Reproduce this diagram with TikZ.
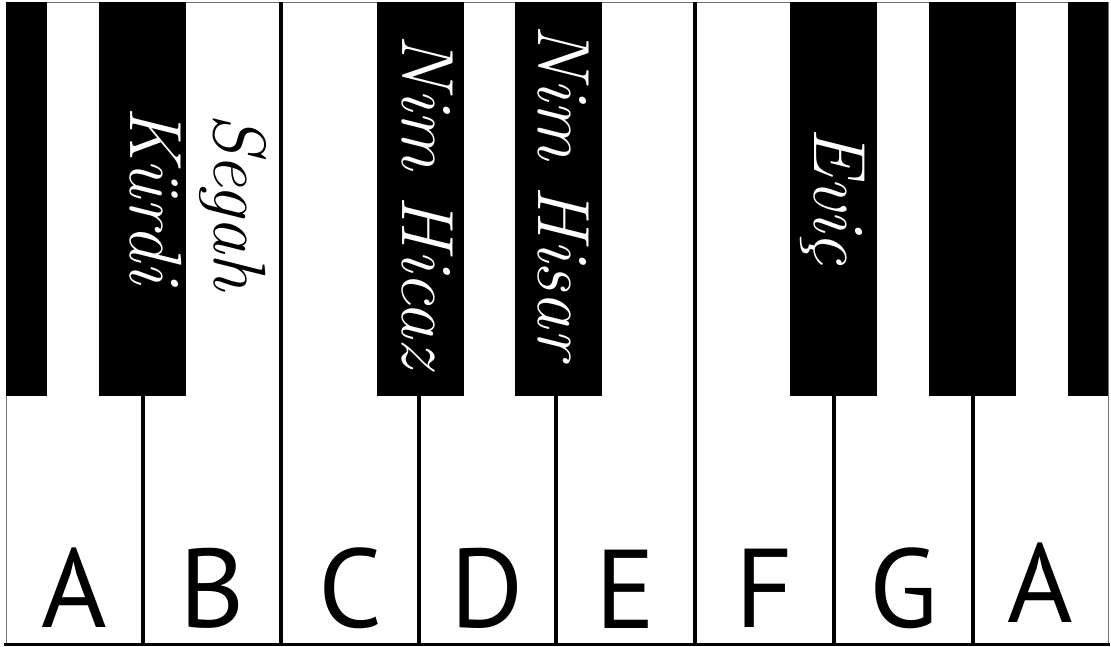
\documentclass[tikz,border=0pt]{standalone}
\usepackage{fontspec}
\newfontfamily\letterfont{PT Sans}
\begin{document}
\begin{tikzpicture}[x=1pt,y=-1pt,
  frame/.style={draw=black!55,line width=1pt},
  blackkey/.style={fill=black},
  sep/.style={line width=3.8pt,black},
  note/.style={font=\letterfont\fontsize{112}{112}\selectfont,anchor=base,inner sep=0pt,text depth=0pt},
  maqam/.style={font=\itshape\fontsize{74}{74}\selectfont,rotate=-90,anchor=base,inner sep=0pt},
]
\useasboundingbox (0,0) rectangle (1111,646);
\fill[white] (0,0) rectangle (1111,646);
\draw[frame] (6,2) rectangle (1108,643);
% white key separators
\foreach \x in {143,281,419,556,695,834,973}
  \draw[sep] (\x,2) -- (\x,643);
\draw[line width=3.5pt] (4,644.5) -- (1110,644.5);
% black keys
\fill[blackkey] (6,2) rectangle (47,396);
\fill[blackkey] (99,2) rectangle (186,396);
\fill[blackkey] (377,2) rectangle (464,396);
\fill[blackkey] (515,2) rectangle (602,396);
\fill[blackkey] (790,2) rectangle (877,396);
\fill[blackkey] (929,2) rectangle (1016,396);
\fill[blackkey] (1068,2) rectangle (1108,396);
% maqam labels
\node[maqam,white] (kurdi) at (130,195) {Kürdi};
\node[maqam,black] (segah) at (214,202) {Segah};
\node[maqam,white] (nimhicaz) at (402,201) {Nim Hicaz};
\node[maqam,white] (nimhisar) at (538,192) {Nim Hisar};
\node[maqam,white] (evic) at (814,196) {Eviç};
% note letters
\node[note] (nA) at (74.5,627) {A};
\node[note] (nB) at (212,627) {B};
\node[note] (nC) at (350,627) {C};
\node[note] (nD) at (487.5,627) {D};
\node[note] (nE) at (625.5,628) {E};
\node[note] (nF) at (764.5,627) {F};
\node[note] (nG) at (903.5,627) {G};
\node[note] (nA2) at (1040.5,622) {A};
\end{tikzpicture}
\end{document}
